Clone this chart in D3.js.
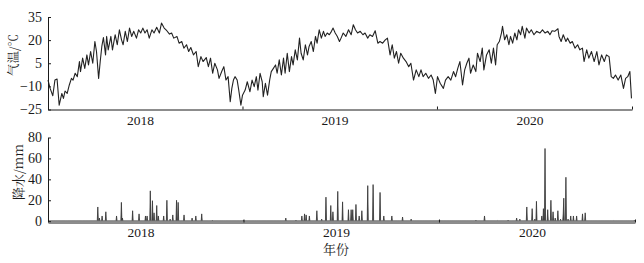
<!DOCTYPE html>
<html>
<head>
<meta charset="utf-8">
<script src="https://cdn.jsdelivr.net/npm/d3@7"></script>
<style>
  body { margin: 0; background: #fff; }
  text { font-family: "Liberation Serif", "Times New Roman", serif; fill: #1a1a1a; }
  .cn { font-family: "Noto Serif CJK SC", "Noto Sans CJK SC", sans-serif; }
  .axis path, .axis line { stroke: #1a1a1a; }
</style>
</head>
<body>
<svg id="chart" width="644" height="263"></svg>
<script>
// 年份标签与年界
var years = [2018, 2019, 2020];
var yearBounds = ["2018-01-01", "2019-01-01", "2020-01-01", "2021-01-01"];

// 坐标刻度
var tempTicks = [35, 20, 5, -10, -25];
var rainTicks = [0, 20, 40, 60, 80];

// 气温 [距2018-01-01天数, ℃]
var tempSeries = [
  [0,-5.9],[4,-11.3],[9,-16.1],[13,-5.9],[17,-5.2],[21,-22.2],[26,-14.6],[29,-17.8],[32,-13],[36,-14.6],
  [40,-9.1],[44,-4.8],[47,-5.9],[51,-1.5],[55,-3.7],[59,6.1],[61,-0.4],[65,8.3],[69,1.7],[73,10.4],
  [76,3.9],[80,12.6],[84,5],[88,19.1],[91,12.6],[95,-4.8],[98,6.1],[101,15.9],[104,21.7],[108,10.4],
  [110,22.4],[113,13.7],[118,22.4],[121,13.7],[126,23.5],[130,17],[134,26.7],[138,20.2],[141,17],[145,25.7],
  [149,19.1],[153,27.8],[157,22.4],[161,25.7],[166,21.3],[170,26.7],[174,24.6],[178,27.8],[182,24.6],[186,26.7],
  [190,21.3],[195,26.7],[199,24.6],[204,28.3],[209,24.6],[213,31.1],[218,27.8],[223,26.1],[228,23.9],[232,24.6],
  [236,21.3],[242,22.4],[246,18],[251,19.1],[255,14.8],[260,17],[264,12.6],[268,15.2],[273,10.4],[278,12.6],
  [282,2.8],[287,9.3],[291,6.1],[297,8.7],[301,2.8],[305,8.3],[309,-1.5],[313,5],[318,0.7],[321,-4.8],
  [326,-0.4],[330,2.8],[334,-5.9],[338,-3.7],[342,-20],[345,-11.3],[348,-5.9],[351,-3.7],[355,-5.9],[358,-12.4],
  [362,-22.2],[365,-15.7],[370,-12.4],[374,-7],[379,-13.5],[383,-5.9],[387,-10.2],[391,-3.7],[394,-12.4],[398,-1.5],
  [402,-7],[404,-16.7],[408,-8],[412,-15.7],[416,-5.9],[419,-0.4],[423,1.7],[427,3.9],[430,-1.5],[434,7.2],
  [438,-2.6],[442,8.3],[445,-1.5],[449,11.5],[453,-0.4],[457,9.3],[460,3.9],[464,13.7],[468,7.2],[472,21.3],
  [475,11.5],[479,7.2],[483,17],[487,10.4],[490,15.9],[494,19.1],[498,12.6],[502,22.4],[505,18],[509,26.7],
  [513,21.3],[517,25.7],[520,22.4],[524,24.6],[528,23.5],[532,25.7],[535,27.8],[539,24.6],[543,22.4],[547,19.1],
  [550,21.3],[554,24.6],[559,22.4],[564,26.7],[569,23.5],[573,30],[577,26.7],[581,24.6],[586,25.7],[591,23.5],
  [595,24.6],[600,21.3],[604,23.5],[609,22.4],[614,26.1],[619,18],[623,19.1],[628,18],[633,20.2],[637,21.3],
  [642,10.4],[646,17],[650,8.3],[654,12.6],[658,5],[662,11.5],[667,8.3],[672,6.1],[677,2.8],[681,5],
  [686,-5.9],[691,0.7],[696,-3.7],[700,0.7],[704,-3.7],[709,-1.5],[714,-4.8],[719,-2.6],[723,-5.9],[727,-14.6],
  [731,-3.7],[736,-8],[742,-11.3],[746,-5.9],[751,-3.7],[756,-5.9],[761,-0.4],[765,-3.7],[769,1.7],[773,6.1],
  [778,-9.1],[782,0.7],[786,5],[790,8.3],[793,-1.5],[798,3.9],[803,-0.4],[806,11.5],[811,6.1],[815,14.8],
  [818,0.7],[823,10.4],[828,13.7],[832,5],[836,14.8],[840,3.9],[843,17],[847,19.1],[851,24.6],[853,28.9],
  [857,20.2],[861,23.5],[865,17],[868,22.4],[872,18],[876,24.6],[880,20.2],[883,26.7],[887,23.5],[890,28.9],
  [895,21.3],[898,27.8],[903,24.6],[907,26.7],[912,23.5],[917,25.7],[923,24.6],[928,26.7],[933,24.6],[938,25.7],
  [942,23.5],[946,26.1],[951,25.7],[957,27.4],[959,22.4],[963,19.1],[967,23.5],[972,19.1],[975,21.3],[980,18],
  [984,19.1],[989,14.8],[994,17],[998,13.7],[1003,14.8],[1006,6.1],[1011,13.7],[1015,8.3],[1020,12.6],[1025,6.1],
  [1030,12.6],[1034,3.9],[1039,10.4],[1044,6.1],[1048,10.4],[1053,9.3],[1057,-3.7],[1061,-4.8],[1065,-2.6],[1070,-5.9],
  [1075,-2.6],[1080,-11.3],[1084,-4.8],[1088,-3.7],[1092,-0.4],[1095,-17.8]
];

// 降水 [天数, mm]，其余日期为0
var rainEvents = [
  [93,13.6],[96,3],[101,5],[108,9],[128,5],[137,18],[139,3],[158,10],[170,7],[182,5],
  [185,5],[191,29],[195,19.6],[198,8],[203,15],[206,5],[216,5],[222,20],[228,2],[233,6],
  [240,20],[243,18],[254,6],[269,3],[276,5],[287,7],[307,0.7],
  [365,1],[444,3],[463,1],[474,5],[479,7],[482,6],[488,5],[502,10],[511,2],[519,23],
  [528,15],[532,9],[541,28.5],[550,18.5],[561,11],[566,11],[569,11],[575,16],[581,5],[586,10],
  [597,34],[607,35],[620,27.5],[627,5],[642,5],[662,4],[678,2],
  [731,1],[799,1],[815,5],[840,0.5],[859,1],[875,3],[881,2],[894,13.6],[904,12],[909,2],
  [912,19],[922,5],[925,12],[928,69.5],[933,11],[939,20],[943,9],[947,3],[952,10],[957,2],
  [962,7],[963,22],[967,42],[971,2],[976,5],[981,5],[987,5],[998,7],[1003,8],[1055,0.5],[1095,1]
];

var nDays = 1096;
var start = new Date(2018, 0, 1);
function dayDate(d) { return d3.timeDay.offset(start, d); }

var rainMap = new Map(rainEvents);
var rainDaily = d3.range(nDays).map(function(d) { return [d, rainMap.get(d) || 0]; });

var svg = d3.select("#chart");
var bounds = yearBounds.map(function(s) { return d3.timeParse("%Y-%m-%d")(s); });

// ---- 上图：气温 ----
var x1 = d3.scaleTime().domain([bounds[0], bounds[3]]).range([48, 632]);
var y1 = d3.scaleLinear().domain([-25, 35]).range([109.5, 17]);

var gTop = svg.append("g");

gTop.append("path")
  .datum(tempSeries)
  .attr("fill", "none")
  .attr("stroke", "#222")
  .attr("stroke-width", 1.1)
  .attr("stroke-linejoin", "round")
  .attr("d", d3.line()
    .x(function(d) { return x1(dayDate(d[0])); })
    .y(function(d) { return y1(d[1]); }));

gTop.append("g")
  .attr("class", "axis")
  .attr("transform", "translate(48,0)")
  .call(d3.axisLeft(y1).tickValues(tempTicks).tickSizeInner(-3).tickSizeOuter(0).tickPadding(6))
  .call(function(g) {
    g.selectAll("text").style("font-size", "14px").style("font-family", "Liberation Serif").attr("fill", "#1a1a1a");
  });

gTop.append("g")
  .attr("class", "axis")
  .attr("transform", "translate(0,109.5)")
  .call(d3.axisBottom(x1).tickValues(bounds).tickSizeInner(-3).tickSizeOuter(0).tickFormat(""));

gTop.selectAll(".yl")
  .data(years)
  .enter().append("text")
  .attr("x", function(d) { return x1(new Date(d, 6, 1)) - 4; })
  .attr("y", 124.5)
  .attr("text-anchor", "middle")
  .style("font-size", "13.5px")
  .text(function(d) { return d; });

gTop.append("text")
  .attr("class", "cn")
  .attr("transform", "translate(18,55) rotate(-90)")
  .attr("text-anchor", "middle")
  .style("font-size", "12.5px")
  .text("气温/℃");

// ---- 下图：降水 ----
var x2 = d3.scaleTime().domain([bounds[0], bounds[3]]).range([48, 635]);
var y2 = d3.scaleLinear().domain([0, 80]).range([221.2, 137.5]);

var gBot = svg.append("g");

gBot.append("path")
  .datum(rainDaily)
  .attr("fill", "#222")
  .attr("fill-opacity", 0.85)
  .attr("stroke", "#333")
  .attr("stroke-width", 0.8)
  .attr("d", d3.area()
    .x(function(d) { return x2(dayDate(d[0])); })
    .y0(y2(0))
    .y1(function(d) { return y2(d[1]); }));

gBot.append("line")
  .attr("x1", 48).attr("x2", 635)
  .attr("y1", y2(0)).attr("y2", y2(0))
  .attr("stroke", "#888")
  .attr("stroke-width", 1.6);

gBot.append("g")
  .attr("class", "axis")
  .attr("transform", "translate(48,0)")
  .call(d3.axisLeft(y2).tickValues(rainTicks).tickSizeInner(-3).tickSizeOuter(0).tickPadding(6))
  .call(function(g) {
    g.selectAll("text").style("font-size", "14px").style("font-family", "Liberation Serif").attr("fill", "#1a1a1a");
  });

gBot.append("g")
  .attr("class", "axis")
  .attr("transform", "translate(0,222.5)")
  .call(d3.axisBottom(x2).tickValues(bounds).tickSizeInner(-3).tickSizeOuter(0).tickFormat(""));

gBot.selectAll(".yl")
  .data(years)
  .enter().append("text")
  .attr("x", function(d) { return x2(new Date(d, 6, 1)) - 4; })
  .attr("y", 237)
  .attr("text-anchor", "middle")
  .style("font-size", "13.5px")
  .text(function(d) { return d; });

gBot.append("text")
  .attr("class", "cn")
  .attr("transform", "translate(23,172) rotate(-90)")
  .attr("text-anchor", "middle")
  .style("font-size", "13px")
  .text("降水/mm");

gBot.append("text")
  .attr("class", "cn")
  .attr("x", 336)
  .attr("y", 254)
  .attr("text-anchor", "middle")
  .style("font-size", "13px")
  .text("年份");
</script>
</body>
</html>
